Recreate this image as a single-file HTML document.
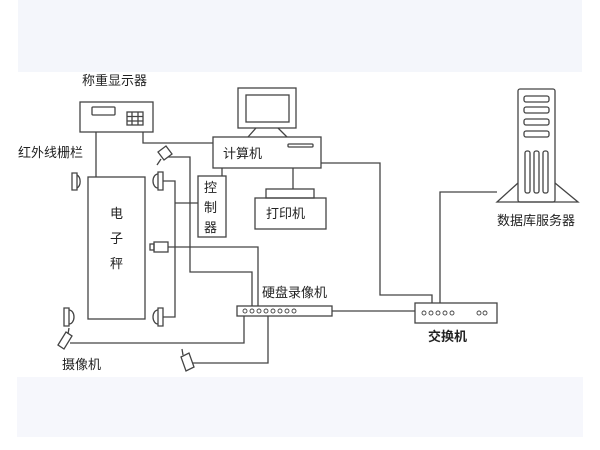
<!DOCTYPE html>
<html><head><meta charset="utf-8"><style>
html,body{margin:0;padding:0;background:#fff;}
svg{display:block;}
text{font-family:"Liberation Sans","Noto Sans CJK SC",sans-serif;fill:#222;font-size:13px;}
</style></head><body>
<svg width="600" height="450" viewBox="0 0 600 450" xmlns="http://www.w3.org/2000/svg">
<rect x="18" y="0" width="564" height="72" fill="#f4f6fb"/>
<rect x="17" y="377" width="566" height="60" fill="#f6f7fc"/>
<g fill="none" stroke="#444" stroke-width="1.3">
<rect x="80" y="102" width="73" height="30"/>
<rect x="92" y="107" width="23" height="8" rx="1"/>
<rect x="127" y="112" width="16" height="13"/>
<path d="M132 112V125M138 112V125M127 116.5H143M127 121H143"/>
<path d="M96 132V177M143 132V143H213"/>
<rect x="238" y="88" width="58" height="40"/>
<rect x="246" y="95" width="43" height="27"/>
<path d="M256 128L248 137M278 128L287 137"/>
<rect x="213" y="137" width="108" height="31"/>
<rect x="288" y="144" width="25" height="3" rx="1"/>
<path d="M321 163H380V295H432V303"/>
<path d="M222 168V176"/>
<path d="M293 168V189"/>
<rect x="266" y="189" width="48" height="9"/>
<rect x="255" y="198" width="71" height="31"/>
<rect x="198" y="176" width="28" height="61"/>
<rect x="88" y="177" width="57" height="142"/>
<path d="M72 173H77V190H72Z"/><path d="M77 175A5 7 0 0 1 77 188"/>
<path d="M158 172H163V190H158Z"/><path d="M158 174A5 7 0 0 0 158 188"/>
<path d="M64 308H69V326H64Z"/><path d="M69 310A5 7 0 0 1 69 324"/>
<path d="M158 308H163V326H158Z"/><path d="M158 310A5 7 0 0 0 158 324"/>
<path d="M163 181H175V317H163M175 203H198"/>
<path d="M158 152L166 146L172 154L164 160Z"/><path d="M161 159L157 165"/>
<path d="M168 157H190V272H252V306"/>
<rect x="154" y="242" width="14" height="10"/><rect x="150" y="244" width="4" height="6"/>
<path d="M168 247H258V306"/>
<rect x="237" y="306" width="95" height="10"/>
<path d="M332 311H415"/>
<path d="M58 345L66 332L72 336L64 349Z"/><path d="M68 334L69 328"/>
<path d="M70 343H244V316"/>
<path d="M181 357L189 353L194 367L186 371Z"/><path d="M183 355L182 349"/>
<path d="M193 363H268V316"/>
<rect x="415" y="303" width="82" height="20"/>
<path d="M440 303V192H497"/>
<rect x="518" y="89" width="37" height="113" rx="2"/>
<rect x="524" y="96" width="25" height="6" rx="2"/>
<rect x="524" y="107" width="25" height="6" rx="2"/>
<rect x="524" y="119" width="25" height="6" rx="2"/>
<rect x="524" y="131" width="25" height="6" rx="2"/>
<rect x="525" y="151" width="5" height="42" rx="2"/>
<rect x="534" y="151" width="5" height="42" rx="2"/>
<rect x="543" y="151" width="5" height="42" rx="2"/>
<path d="M518 183L497 202H578L555 183"/>
</g>
<g fill="none" stroke="#444" stroke-width="0.9">
<circle cx="245" cy="311" r="2"/><circle cx="252" cy="311" r="2"/><circle cx="259" cy="311" r="2"/><circle cx="266" cy="311" r="2"/><circle cx="273" cy="311" r="2"/><circle cx="280" cy="311" r="2"/><circle cx="287" cy="311" r="2"/><circle cx="294" cy="311" r="2"/>
<circle cx="424" cy="313" r="2"/><circle cx="431" cy="313" r="2"/><circle cx="438" cy="313" r="2"/><circle cx="445" cy="313" r="2"/><circle cx="452" cy="313" r="2"/><circle cx="479" cy="313" r="2"/><circle cx="485" cy="313" r="2"/>
</g>
<text x="82" y="85">称重显示器</text>
<text x="18" y="157">红外线栅栏</text>
<text x="223" y="158">计算机</text>
<text x="266" y="218">打印机</text>
<text x="204" y="192">控</text><text x="204" y="212">制</text><text x="204" y="232">器</text>
<text x="110" y="218">电</text><text x="110" y="243">子</text><text x="110" y="268">秤</text>
<text x="262" y="297">硬盘录像机</text>
<text x="428" y="341" style="font-weight:bold">交换机</text>
<text x="62" y="369">摄像机</text>
<text x="497" y="225">数据库服务器</text>
</svg>
</body></html>
